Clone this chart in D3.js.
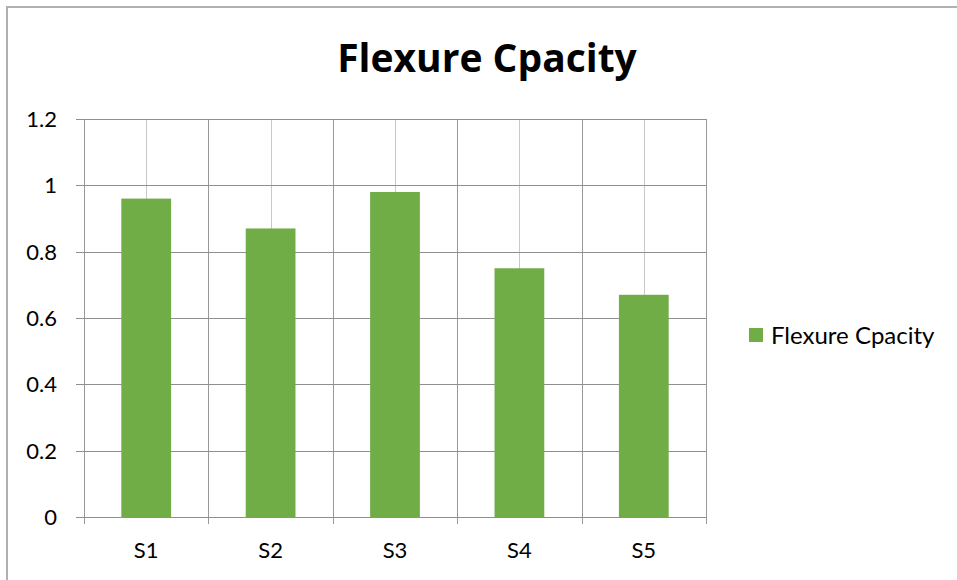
<!DOCTYPE html>
<html>
<head>
<meta charset="utf-8">
<script src="https://cdn.jsdelivr.net/npm/d3@7"></script>
<style>
  body { margin: 0; background: #fff; }
  text { font-family: Lato, "Open Sans", sans-serif; fill: #000; }
  text.title { font-family: "Open Sans", Lato, sans-serif; }
</style>
</head>
<body>
<div id="chart"></div>
<script>
const categories = ['S1', 'S2', 'S3', 'S4', 'S5'];
const values = [0.96, 0.87, 0.98, 0.75, 0.67];
const yTicks = [0, 0.2, 0.4, 0.6, 0.8, 1, 1.2];
const seriesName = 'Flexure Cpacity';
const title = 'Flexure Cpacity';

const width = 957, height = 580;
const plot = { left: 84, right: 706, top: 119, bottom: 517 };
const barColor = '#70ad47';

const svg = d3.select('#chart').append('svg')
    .attr('width', width)
    .attr('height', height);

// chart border (only left/top visible in the crop)
svg.append('rect')
    .attr('x', 7).attr('y', 7)
    .attr('width', width + 20).attr('height', height + 20)
    .attr('fill', '#fff')
    .attr('stroke', '#b0b0b0')
    .attr('stroke-width', 2);

const x = d3.scaleBand()
    .domain(categories)
    .range([plot.left, plot.right])
    .paddingInner(0.6)
    .paddingOuter(0.3);

const y = d3.scaleLinear()
    .domain([0, 1.2])
    .range([plot.bottom, plot.top]);

const step = (plot.right - plot.left) / categories.length;

// vertical grid at category centres (lighter)
svg.append('g')
    .selectAll('line')
    .data(categories)
    .join('line')
    .attr('x1', d => Math.round(x(d) + x.bandwidth() / 2) + 0.5)
    .attr('x2', d => Math.round(x(d) + x.bandwidth() / 2) + 0.5)
    .attr('y1', plot.top)
    .attr('y2', plot.bottom)
    .attr('stroke', '#c8c8c8');

// vertical grid at category boundaries (darker), extending as ticks
const bounds = d3.range(categories.length + 1).map(i => plot.left + i * step);
svg.append('g')
    .selectAll('line')
    .data(bounds)
    .join('line')
    .attr('x1', d => Math.round(d) + 0.5)
    .attr('x2', d => Math.round(d) + 0.5)
    .attr('y1', plot.top)
    .attr('y2', plot.bottom + 7)
    .attr('stroke', '#989898');

// horizontal grid with left tick stubs
svg.append('g')
    .selectAll('line')
    .data(yTicks)
    .join('line')
    .attr('x1', plot.left - 8)
    .attr('x2', plot.right)
    .attr('y1', d => Math.round(y(d)) + 0.5)
    .attr('y2', d => Math.round(y(d)) + 0.5)
    .attr('stroke', '#8f8f8f');

// bars
svg.append('g')
    .selectAll('rect')
    .data(values)
    .join('rect')
    .attr('x', (d, i) => x(categories[i]))
    .attr('y', d => y(d))
    .attr('width', x.bandwidth())
    .attr('height', d => y(0) - y(d))
    .attr('fill', barColor);

// y labels
svg.append('g')
    .selectAll('text')
    .data(yTicks)
    .join('text')
    .attr('x', 57)
    .attr('y', d => y(d))
    .attr('dy', '0.36em')
    .attr('text-anchor', 'end')
    .attr('font-size', 22)
    .text(d => d3.format('~g')(d));

// x labels
svg.append('g')
    .selectAll('text')
    .data(categories)
    .join('text')
    .attr('x', d => x(d) + x.bandwidth() / 2)
    .attr('y', 558)
    .attr('text-anchor', 'middle')
    .attr('font-size', 22)
    .text(d => d);

// title
svg.append('text')
    .attr('class', 'title')
    .attr('x', 487)
    .attr('y', 72)
    .attr('text-anchor', 'middle')
    .attr('font-size', 39)
    .attr('font-weight', 'bold')
    .text(title);

// legend
const legend = svg.append('g').attr('transform', 'translate(749,328)');
legend.append('rect')
    .attr('width', 14).attr('height', 14)
    .attr('fill', barColor);
legend.append('text')
    .attr('x', 22)
    .attr('y', 7)
    .attr('dy', '0.36em')
    .attr('font-size', 24)
    .text(seriesName);
</script>
</body>
</html>
